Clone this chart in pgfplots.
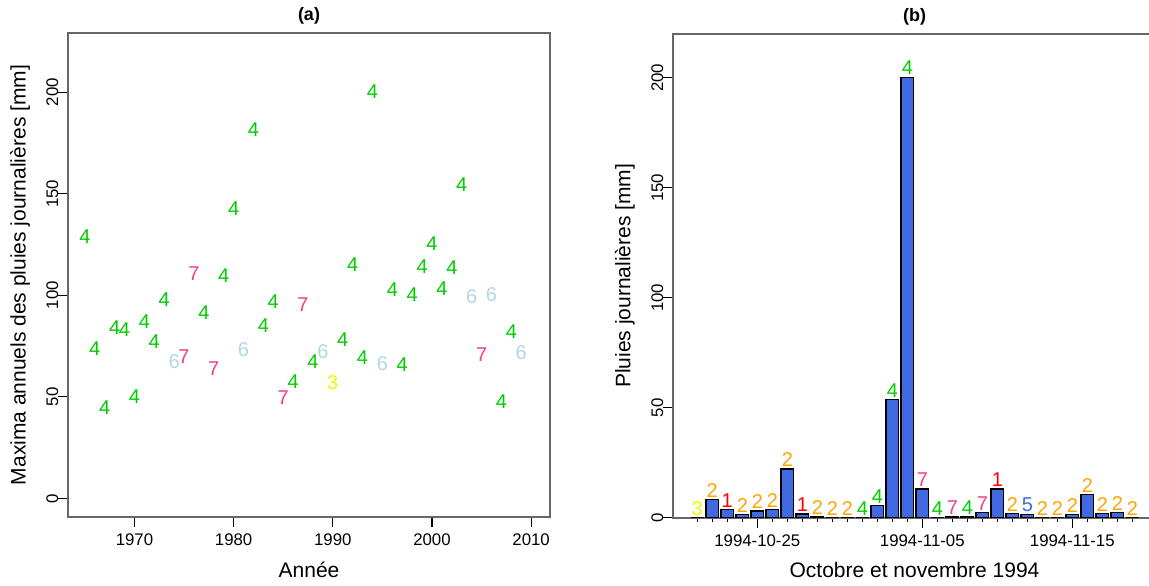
\documentclass[border=0pt]{standalone}
\usepackage{fontspec}
\setmainfont{Liberation Sans}
\usepackage{pgfplots}
\pgfplotsset{compat=1.18}
\usepackage{pgfplotstable}

\definecolor{c1}{HTML}{FF0000}
\definecolor{c2}{HTML}{FFA500}
\definecolor{c3}{HTML}{F5F500}
\definecolor{c4}{HTML}{00CD00}
\definecolor{c5}{HTML}{4169E1}
\definecolor{c6}{HTML}{ADD8E6}
\definecolor{c7}{HTML}{F53E8C}
\definecolor{barblue}{HTML}{4169E1}
\definecolor{boxgray}{HTML}{666666}

\pgfplotstableread{
year val cl
1965 128.9 4
1966 73.9 4
1967 44.8 4
1968 84.1 4
1969 82.9 4
1970 50.0 4
1971 87.0 4
1972 77.1 4
1973 97.7 4
1974 67.3 6
1975 69.8 7
1976 110.8 7
1977 91.6 4
1978 64.1 7
1979 109.5 4
1980 142.9 4
1981 73.4 6
1982 181.8 4
1983 85.0 4
1984 96.8 4
1985 49.8 7
1986 57.4 4
1987 95.2 7
1988 67.3 4
1989 72.5 6
1990 56.9 3
1991 78.0 4
1992 115.2 4
1993 69.3 4
1994 200.3 4
1995 66.2 6
1996 103.0 4
1997 66.0 4
1998 100.1 4
1999 114.1 4
2000 125.6 4
2001 103.5 4
2002 113.6 4
2003 154.3 4
2004 99.6 6
2005 71.0 7
2006 100.1 6
2007 47.6 4
2008 82.1 4
2009 71.7 6
}\maxima

\pgfplotstableread{
day val cl
1 0 3
2 8.3 2
3 3.9 1
4 1.5 2
5 3.1 2
6 3.9 2
7 22.2 2
8 1.7 1
9 0.7 2
10 0 2
11 0 2
12 0 4
13 5.7 4
14 53.7 4
15 200.3 4
16 13.1 7
17 0 4
18 0.5 7
19 0.5 4
20 2.4 7
21 13.1 1
22 1.9 2
23 1.6 5
24 0.2 2
25 0 2
26 1.4 2
27 10.7 2
28 1.9 2
29 2.4 2
30 0 2
}\pluies

\pgfplotsset{
  common/.style={
    scale only axis,
    height=242pt,
    axis line style={boxgray, line width=0.75pt},
    tick style={black, line width=0.6pt},
    tick align=outside,
    major tick length=5pt,
    tick pos=left,
    /pgf/number format/assume math mode=true,
    /pgf/number format/1000 sep={},
    tick label style={font=\fontsize{8.4}{10}\selectfont},
    yticklabel style={rotate=90, anchor=base},
    label style={font=\fontsize{10.5}{12}\selectfont},
    xlabel style={at={(axis description cs:0.5,-0.124)}, anchor=base},
    ylabel style={at={(axis description cs:-0.0996,0.5)}, anchor=center},
    ytick={0,50,100,150,200},
  },
  paneltitle/.style={
    after end axis/.append code={
      \node[anchor=base, inner sep=0pt, font=\bfseries\fontsize{9}{11}\selectfont]
        at ([yshift=6pt]axis description cs:0.5,1) {#1};
    }
  }
}

\begin{document}
\begin{tikzpicture}
\path[use as bounding box] (0,0) rectangle (574.5pt,292.5pt);

\begin{axis}[common,
  at={(34pt,34pt)}, anchor=south west,
  width=241pt,
  xmin=1963.3, xmax=2011.9, ymin=-9.2, ymax=229.2,
  xtick={1970,1980,1990,2000,2010},
  paneltitle={(a)},
  xlabel={Année},
  ylabel={Maxima annuels des pluies journalières [mm]},
]
\addplot[draw=none, mark=none,
  point meta=explicit symbolic,
  nodes near coords={\textcolor{c\pgfplotspointmeta}{\pgfplotspointmeta}},
  every node near coord/.append style={anchor=center, inner sep=0pt, font=\fontsize{10}{12}\selectfont}]
  table[x=year, y=val, meta=cl] {\maxima};
\end{axis}

\begin{axis}[common,
  at={(336.5pt,33.6pt)}, anchor=south west,
  width=241.5pt,
  xmin=-0.62, xmax=31.58, ymin=0, ymax=220,
  xtick={5,16,26},
  xticklabels={1994-10-25,1994-11-05,1994-11-15},
  minor xtick={1,...,30},
  minor tick length=2pt,
  paneltitle={(b)},
  xlabel={Octobre et novembre 1994},
  ylabel={Pluies journalières [mm]},
]
\addplot[ybar, bar width=0.833, fill=barblue, draw=black, line width=0.6pt,
  point meta=explicit symbolic,
  nodes near coords={\textcolor{c\pgfplotspointmeta}{\pgfplotspointmeta}},
  every node near coord/.append style={anchor=south, inner sep=0.8pt, font=\fontsize{10}{12}\selectfont}]
  table[x=day, y=val, meta=cl] {\pluies};
\end{axis}
\end{tikzpicture}
\end{document}
